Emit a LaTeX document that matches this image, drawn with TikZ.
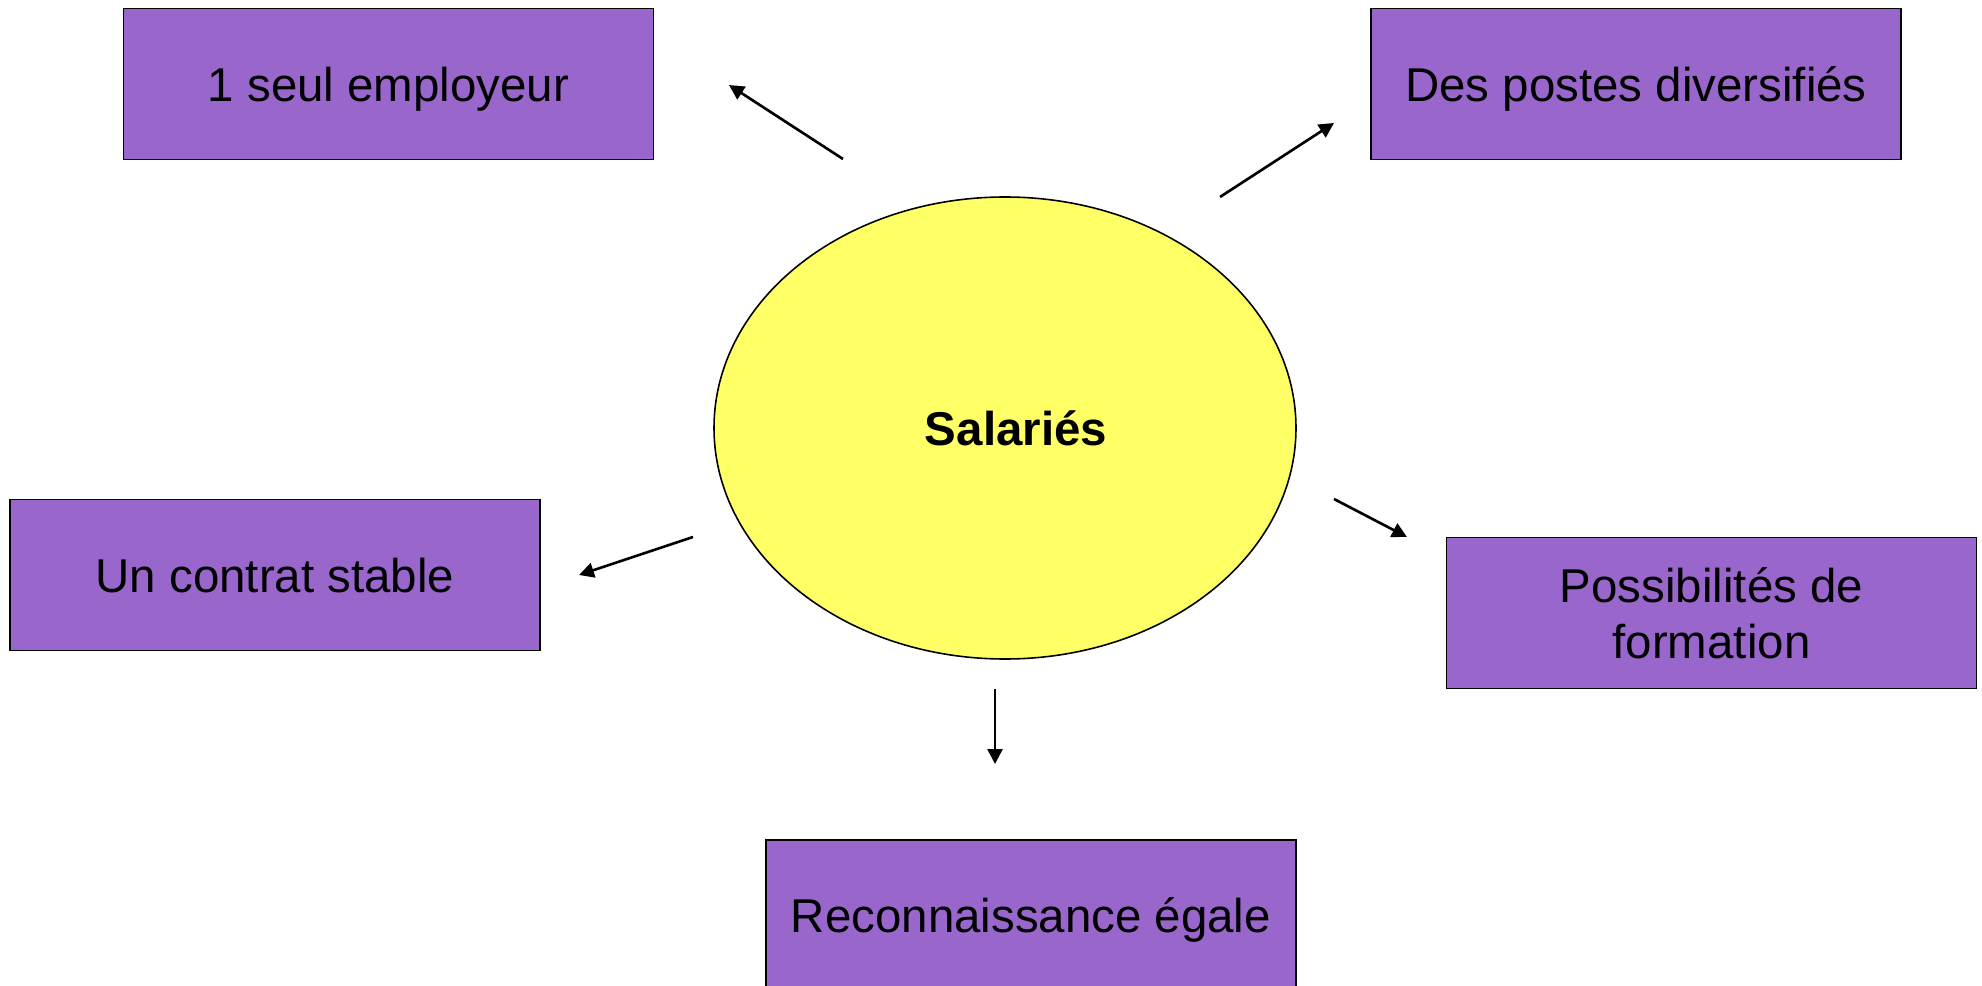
\documentclass[tikz,border=0pt]{standalone}
\usepackage{fontspec}
\setmainfont{Liberation Sans}
\usetikzlibrary{arrows.meta,shapes.geometric}
\definecolor{boxpurple}{RGB}{153,102,204}
\definecolor{ellyellow}{RGB}{255,255,102}
\begin{document}
\begin{tikzpicture}[x=0.2mm, y=-0.2mm,
 box/.style={rectangle, draw, line width=0.9pt, fill=boxpurple, minimum width=106mm, minimum height=30.2mm, align=center, inner sep=0pt, text depth=0pt, font=\fontsize{27}{32}\selectfont},
 arr/.style={-{Triangle[length=8.5pt, width=8.5pt]}, line width=1.5pt}]
 \useasboundingbox (0,0) rectangle (1982,986);
 \clip (0,0) rectangle (1982,986);
 \node[ellipse, draw, line width=0.9pt, fill=ellyellow, minimum width=116.4mm, minimum height=92.4mm, font=\fontsize{27}{32}\selectfont\bfseries] (sal) at (1005,428) {\hspace*{4.4mm}Salariés};
 \node[box] (emp) at (388.5,84) {1 seul employeur};
 \node[box] (postes) at (1636,84) {Des postes diversifiés};
 \node[box] (contrat) at (275,575) {Un contrat stable};
 \node[box] (form) at (1711.5,613) {Possibilités de\\formation};
 \node[box] (egale) at (1031,915.5) {Reconnaissance égale};
 \coordinate (a1) at (843,159); \coordinate (b1) at (729,85);
 \coordinate (a2) at (1220,197); \coordinate (b2) at (1334,123);
 \coordinate (a3) at (693,537); \coordinate (b3) at (579,575);
 \coordinate (a4) at (1334,499); \coordinate (b4) at (1407,537);
 \coordinate (a5) at (995,689); \coordinate (b5) at (995,764);
 \draw[arr] (a1) -- (b1);
 \draw[arr] (a2) -- (b2);
 \draw[arr] (a3) -- (b3);
 \draw[arr] (a4) -- (b4);
 \draw[arr] (a5) -- (b5);
\end{tikzpicture}
\end{document}
